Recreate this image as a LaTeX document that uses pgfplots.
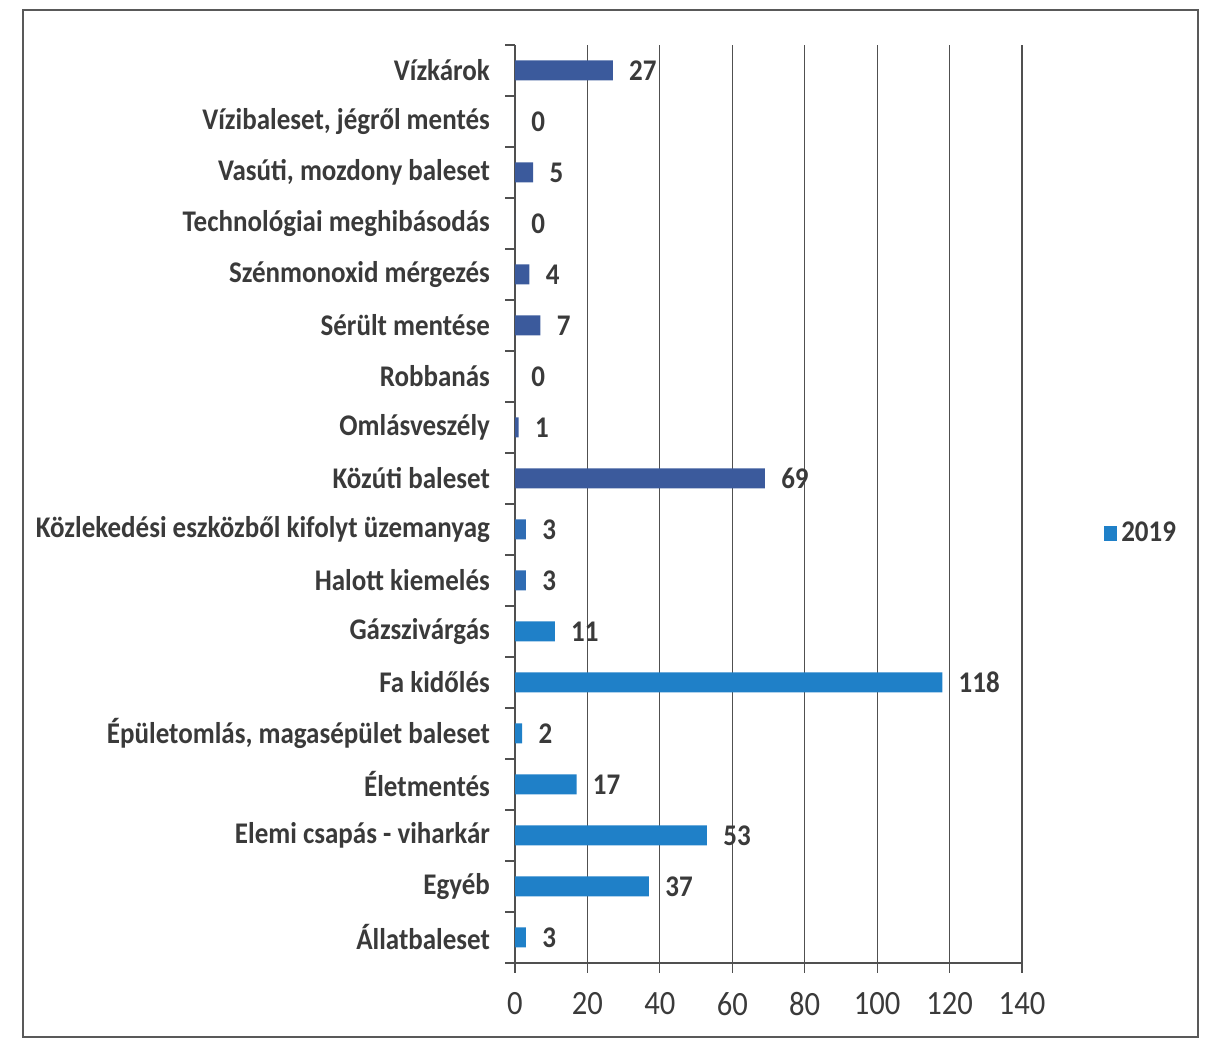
\documentclass[border=0pt]{standalone}
\usepackage{pgfplots}
\pgfplotsset{compat=1.18}
\usepackage{fontspec}
\setmainfont{Carlito}[FakeStretch=0.9]
\definecolor{txt}{HTML}{3A3A3A}
\definecolor{cdark}{HTML}{3B5A9C}
\definecolor{cmid}{HTML}{2F6CB3}
\definecolor{clight}{HTML}{1F80C8}
\definecolor{gridc}{HTML}{505050}
\begin{document}
\begin{tikzpicture}
\useasboundingbox (0,0) rectangle (604pt,521pt);
\draw[gray!70!black, line width=1pt] (11.5pt,2.5pt) rectangle (599pt,516pt);
\begin{axis}[
  at={(257.5pt,39.5pt)}, anchor=south west,
  scale only axis, width=253.5pt, height=459pt,
  xbar, bar width=10pt,
  xmin=0, xmax=140, xtick={0,20,...,140},
  ymin=-0.5, ymax=17.5,
  ytick={0,...,17},
  yticklabels={Állatbaleset, Egyéb, Elemi csapás - viharkár, Életmentés, {Épületomlás, magasépület baleset}, Fa kidőlés, Gázszivárgás, Halott kiemelés, Közlekedési eszközből kifolyt üzemanyag, Közúti baleset, Omlásveszély, Robbanás, Sérült mentése, Szénmonoxid mérgezés, Technológiai meghibásodás, {Vasúti, mozdony baleset}, {Vízibaleset, jégről mentés}, Vízkárok},
  minor ytick={-0.5,0.5,...,17.5},
  ytick style={draw=none},
  minor y tick style={draw=gridc, line width=0.6pt},
  x tick style={draw=gridc, line width=0.6pt},
  tick align=outside, major tick length=5pt, minor tick length=5pt,
  axis x line*=bottom, axis y line*=left,
  axis line style={draw=gridc, line width=0.6pt, -},
  xmajorgrids, grid style={draw=gridc, line width=0.6pt},
  yticklabel style={font=\fontsize{15}{18}\selectfont\bfseries, text=txt, xshift=-4pt},
  xticklabel style={font=\fontsize{17}{20}\selectfont, text=txt, yshift=-6pt},
  /pgf/number format/assume math mode=true,
  nodes near coords, point meta=x,
  every node near coord/.append style={font=\fontsize{15}{18}\selectfont\bfseries, text=txt, anchor=west, xshift=7pt, inner sep=1pt},
  legend style={at={(1.15,0.468)}, anchor=west, draw=none, fill=none, font=\fontsize{15}{18}\selectfont\bfseries, text=txt},
]
\addplot[fill=clight, draw=none, bar shift=0pt, forget plot] coordinates {
  (3,0) (37,1) (53,2) (17,3) (2,4) (118,5) (11,6)
};
\addplot[fill=cmid, draw=none, bar shift=0pt, forget plot] coordinates {
  (3,7) (3,8)
};
\addplot[fill=cdark, draw=none, bar shift=0pt, forget plot] coordinates {
  (69,9) (1,10) (0,11) (7,12) (4,13) (0,14) (5,15) (0,16) (27,17)
};
\addlegendimage{legend image code/.code={\fill[clight] (0pt,-3.5pt) rectangle (6pt,3.5pt);}}
\addlegendentry{2019}
\end{axis}
\end{tikzpicture}
\end{document}
